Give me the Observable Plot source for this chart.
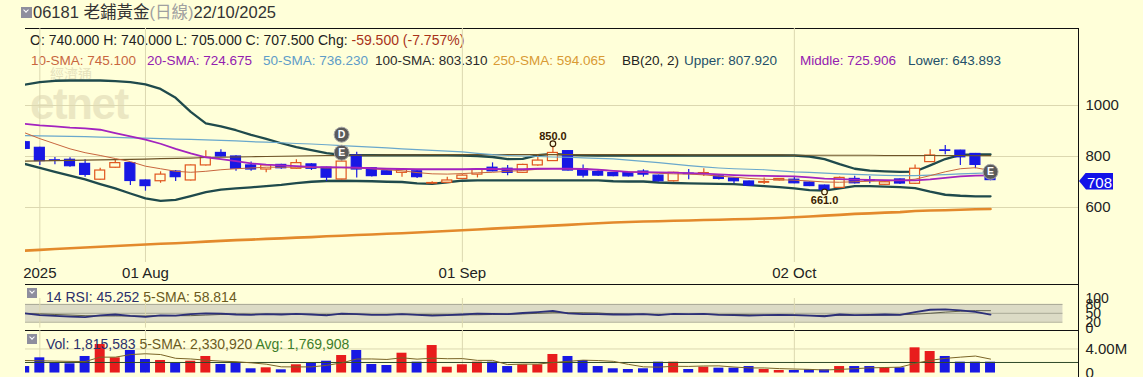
<!DOCTYPE html>
<html>
<head>
<meta charset="utf-8">
<script src="https://cdn.jsdelivr.net/npm/d3@7"></script>
<script src="https://cdn.jsdelivr.net/npm/@observablehq/plot@0.6"></script>
<style>
html,body{margin:0;padding:0;background:#FFFFD9;}
#wrap{position:relative;width:1143px;height:377px;overflow:hidden;background:#FFFFD9;font-family:"Liberation Sans",Arial,"Noto Sans CJK TC",sans-serif;color:#222;}
.a{position:absolute;white-space:pre;line-height:1;}
.hl{position:absolute;height:1px;background:#111;}
.vl{position:absolute;width:1px;background:#111;}
.chk{position:absolute;width:10px;height:10px;background:#8e8e9e;}
.chk:after{content:"";position:absolute;left:3px;top:1px;width:3px;height:3px;border-right:1.5px solid #fff;border-bottom:1.5px solid #fff;transform:rotate(45deg);}
.pnl{position:absolute;left:0;}
.pnl svg{display:block;overflow:visible;}
</style>
</head>
<body>
<div id="wrap"></div>
<script>
// ---------------- data ----------------
const code = "06181";
const name = "老鋪黃金";
const period = "(日線)";
const asOf = "22/10/2025";

const xTickIdx = [1, 8, 29, 51];
const xTickLabels = ["2025", "01 Aug", "01 Sep", "02 Oct"];
const priceTicks = [600, 800, 1000];
const rsiTicks = [0, 20, 50, 80, 100];
const rsiBand = [20, 80];
const volTicks = [0, 4e6];

const open = [856,834,785,787,771,709,756,774,706,703,
  741,706,765,814,800,765,749,767,752,769,
  756,710,804,754,742,736,742,694,697,712,
  729,756,752,736,765,782,821,749,739,735,
  735,741,725,703,733,731,722,714,702,697,
  706,709,698,686,677,712,707,689,710,693,
  778,824,823,810,740];
const high = [860,836,796,795,787,754,787,776,708,740,
  745,767,823,826,803,778,768,770,787,772,
  758,815,817,756,744,750,745,701,719,728,
  750,775,765,770,807,850,823,767,745,737,
  737,748,727,738,749,752,724,716,704,716,
  714,722,700,688,720,723,722,702,712,767,
  826,843,825,812,740];
const low = [826,765,768,758,719,707,754,686,664,695,
  702,704,763,798,742,742,736,750,750,745,
  702,708,716,720,726,719,714,690,695,710,
  716,740,725,733,762,780,743,716,722,721,
  720,719,700,700,709,722,708,693,684,690,
  704,693,682,661,675,692,693,687,690,690,
  776,807,765,752,705];
const close = [830,782,783,762,728,745,774,704,684,729,
  719,765,795,800,752,749,765,754,774,752,
  717,780,749,723,728,748,719,696,706,725,
  748,742,736,767,784,814,745,725,725,723,
  722,729,703,736,731,735,712,703,686,700,
  712,695,684,669,716,695,705,699,694,752,
  804,822,797,767,707.5];
const volumeM = [1.10,2.54,1.65,1.55,2.76,4.74,2.54,3.75,2.26,2.10,
  1.65,1.98,2.76,1.44,1.65,0.73,0.89,0.56,1.39,1.65,
  1.98,2.92,3.75,1.44,1.27,3.30,1.82,4.57,0.99,1.39,
  1.82,1.82,1.10,1.39,1.39,3.09,2.76,2.10,1.10,0.73,
  0.61,0.73,1.82,1.82,0.61,0.99,0.83,0.83,1.10,0.61,
  0.45,0.45,0.56,0.56,1.10,1.10,1.10,0.83,0.89,4.19,
  3.58,2.76,1.82,1.82,1.815583];
const volSmaM = [2.10,2.05,2.00,1.95,1.92,2.65,2.65,3.07,3.21,3.08,
  2.46,2.35,2.15,1.99,1.90,1.71,1.49,1.05,1.04,1.04,
  1.29,1.70,2.34,2.35,2.27,2.54,2.32,2.48,2.39,2.41,
  2.12,2.12,1.42,1.50,1.50,1.76,1.95,2.15,2.09,1.96,
  1.46,1.05,1.00,1.14,1.12,1.19,1.21,1.02,0.87,0.87,
  0.76,0.69,0.63,0.53,0.62,0.75,0.88,0.94,1.00,1.62,
  2.12,2.45,2.65,2.83,2.33];
const volAvg = 1769908;

const bbUpper = [1082,1092,1097,1098,1098,1098,1096,1092,1083,1065,
  1030,975,930,918,903,885,869,852,837,825,
  813,806,805,805,805,805,805,805,805,804,
  802,798,790,791,805,810,806,805,804,804,
  804,804,804,804,804,804,804,804,804,804,
  804,804,800,790,770,752,745,742,740,741,
  765,790,806,808,807.9];
const bbLower = [771,755,740,725,710,692,675,655,636,626,
  630,645,660,670,675,679,684,689,696,701,
  704,705,704,703,701,700,695,693,699,705,
  706,706,706,706,706,706,706,706,706,703,
  702,702,698,696,695,694,693,692,688,684,
  680,675,668,666,675,684,684,682,680,676,
  662,650,646,644,643.9];
const sma20 = [928,922,918,913,910,905,892,879,866,850,
  830,812,797,790,782,773,768,765,762,759,
  758,757,756,754,752,751,750,750,750,750,
  751,751,750,750,752,752,752,751,748,744,
  740,739,738,737,735,733,730,727,725,724,
  723,722,718,713,711,709,708,707,706,706,
  710,716,722,725,725.9];
const sma10 = [893,870,850,830,815,804,792,780,762,752,
  742,738,742,748,752,755,758,758,758,757,
  755,756,755,752,748,744,737,732,731,733,
  736,738,742,745,750,753,752,751,748,744,
  740,738,734,732,731,728,723,719,714,711,
  709,707,704,700,699,701,703,704,706,711,
  725,740,752,756,745.1];
const sma50 = [882,881,880,879,878,876,875,873,872,870,
  868,867,865,863,861,858,856,854,851,849,
  846,843,840,837,834,830,827,824,821,818,
  812,807,804,802,800,798,797,795,793,791,
  786,781,776,770,764,759,755,752,750,748,
  744,740,738,735,732,730,728,726,725,725,
  727,729,732,734,736.2];
const sma100 = [782,783,784,785,786,787,788,789,790,792,
  793,794,796,797,798,799,800,801,802,803,
  804,804,805,805,806,806,806,807,807,807,
  807,807,807,807,807,807,807,807,807,807,
  807,807,807,807,806,806,806,806,806,806,
  806,805,805,805,805,805,805,804,804,804,
  804,804,804,803,803.3];
const sma250 = [431,434,437,440,443,446,449,452,455,458,
  460,463,466,469,472,474,477,479,482,484,
  487,489,492,494,497,499,502,505,508,511,
  514,517,520,523,526,529,532,535,538,541,
  543,545,546,548,549,551,552,554,555,557,
  559,562,565,568,571,575,577,580,582,586,
  588,589,591,593,594.1];
const rsi = [50,44,41,39,37,43,46,41,38,43,
  42,47,50,49,46,45,47,46,48,46,
  43,49,47,45,45,47,45,42,44,46,
  49,48,47,51,54,58,50,47,47,46,
  46,47,44,48,47,48,45,44,42,44,
  45,44,42,40,46,44,45,46,45,54,
  62,63,60,55,45.252];
const rsiSma = [49,48,46,44,42,41,41,41,41,42,
  42,42,44,46,47,47,47,47,46,46,
  46,46,47,46,46,47,46,45,45,45,
  45,46,47,48,50,52,52,52,51,48,
  47,47,46,46,46,47,46,46,45,44,
  44,44,43,43,43,43,43,44,45,47,
  50,54,57,59,58.814];

const extIdx = [35, 53];
const extVal = [850, 661];
const extText = ["850.0", "661.0"];
const extDir = [-1, 1];
const evtIdx = [21, 21, 64];
const evtLabel = ["D", "E", "E"];
const evtLevel = [1, 0, 0];

const infoLine1 = [["O: 740.000 H: 740.000 L: 705.000 C: 707.500 Chg: ", "#222"], ["-59.500 (-7.757%)", "#a8321a"]];
const infoLine2 = [["10-SMA: 745.100", "#c8663e", 31], ["20-SMA: 724.675", "#9320b0", 147], ["50-SMA: 736.230", "#5e9cc8", 263],
  ["100-SMA: 803.310", "#2a2a2a", 375], ["250-SMA: 594.065", "#d99a34", 493], ["BB(20, 2)", "#222", 622],
  ["Upper: 807.920", "#23506a", 684], ["Middle: 725.906", "#9320b0", 800], ["Lower: 643.893", "#23506a", 908]];
const rsiInfo = [["14 RSI: 45.252 ", "#2b306b"], ["5-SMA: 58.814", "#6b5a1e"]];
const volInfo = [["Vol: 1,815,583 ", "#2b306b"], ["5-SMA: 2,330,920 ", "#6b5a1e"], ["Avg: 1,769,908", "#3d7d2a"]];

// ---------------- styles ----------------
const BG = "#FFFFD9";
const GRID = "#dcd8b0";
const UP = "#e0561e", DN = "#1818e4";
const FONT = '"Liberation Sans", Arial, sans-serif';
const xDomain = [0.05, 69.83];

const idx = d3.range(open.length);
const bars = idx.map(i => ({i, o: open[i], h: high[i], l: low[i], c: close[i], v: volumeM[i] * 1e6, up: close[i] >= open[i]}));

const wrap = document.getElementById("wrap");
function add(html) { wrap.insertAdjacentHTML("beforeend", html); }
function spans(parts) { return parts.map(([t, c]) => `<span style="color:${c}">${t}</span>`).join(""); }

// header
add(`<div class="chk" style="left:21px;top:7px;width:11px;height:11px"></div>`);
add(`<div class="a" style="left:33px;top:4px;font-size:16.5px;color:#333;font-family:'Liberation Sans','Noto Sans CJK TC',sans-serif">${code} ${name}<span style="color:#a0a0a0">${period}</span>${asOf}</div>`);
add(`<div class="hl" style="left:25px;top:28px;width:1053px"></div>`);
add(`<div class="a" style="left:30px;top:33px;font-size:14px">${spans(infoLine1)}</div>`);
infoLine2.forEach(([t, c, x]) => add(`<div class="a" style="left:${x}px;top:53.5px;font-size:13.5px;color:${c}">${t}</div>`));
// watermark
add(`<div class="a" style="left:50px;top:66px;font-size:14px;color:#e6e2bd;font-family:'Noto Sans CJK TC',sans-serif">經濟通</div>`);
add(`<div class="a" style="left:30px;top:82px;font-size:44px;font-weight:bold;color:#ebe7c2;letter-spacing:-1.5px">etnet</div>`);

function line(arr, stroke, w) {
  return Plot.line(idx, {x: d => d, y: d => arr[d], stroke, strokeWidth: w, clip: true, curve: "linear"});
}

const extMarks = extIdx.flatMap((d, k) => [
  Plot.dot([d], {x: v => v, y: () => extVal[k], r: 2.8, stroke: "#3a1c00", fill: BG, strokeWidth: 1.2}),
  Plot.text([d], {x: v => v, y: () => extVal[k], text: () => extText[k], dy: extDir[k] < 0 ? -7 : 9, fontSize: 11, fontWeight: "bold", fill: "#3a1c00"})
]);
const evtMarks = evtIdx.flatMap((d, k) => [
  Plot.dot([d], {x: v => v, y: v => high[v], dy: -evtLevel[k] * 18, r: 7.5, fill: "#5a5a5a", stroke: "#a8a8a8", strokeWidth: 1}),
  Plot.text([d], {x: v => v, y: v => high[v], dy: -evtLevel[k] * 18, text: () => evtLabel[k], fontSize: 10.5, fontWeight: "bold", fill: "#fff"})
]);

// main chart
const main = Plot.plot({
  width: 1143, height: 256, marginLeft: 25, marginRight: 65, marginTop: 0, marginBottom: 22,
  style: {background: "transparent", fontFamily: FONT, fontSize: "15px", color: "#222", overflow: "visible"},
  x: {domain: xDomain, ticks: xTickIdx, tickFormat: d => xTickLabels[xTickIdx.indexOf(d)], tickSize: 0, tickPadding: 5, label: null},
  y: {domain: [384.3, 1302], ticks: priceTicks, tickFormat: d => String(d), tickSize: 0, tickPadding: 7, label: null, axis: "right"},
  color: {type: "identity"},
  marks: [
    Plot.ruleY(priceTicks, {stroke: GRID}),
    Plot.ruleX(xTickIdx, {stroke: GRID}),
    line(sma250, "#e38a2c", 2.6),
    line(bbUpper, "#1f4a4c", 2.3),
    line(bbLower, "#1f4a4c", 2.3),
    Plot.ruleX(bars, {x: "i", y1: "l", y2: "h", stroke: d => d.up ? UP : DN, strokeWidth: 1.2, clip: true}),
    Plot.rect(bars, {x1: d => d.i - 0.33, x2: d => d.i + 0.33, y1: d => Math.min(d.o, d.c), y2: d => Math.max(d.o, d.c),
      fill: d => d.up ? BG : DN, stroke: d => d.up ? UP : DN, strokeWidth: 1.2, clip: true}),
    line(sma100, "#6e5428", 1.2),
    line(sma50, "#6aa8cc", 1.2),
    line(sma10, "#c8663e", 1),
    line(sma20, "#a323bf", 1.8),
    ...extMarks,
    ...evtMarks
  ]
});
const mainDiv = document.createElement("div");
mainDiv.className = "pnl"; mainDiv.style.top = "28px";
mainDiv.appendChild(main); wrap.appendChild(mainDiv);

// price tag
{
  const yy = 28 + main.scale("y").apply(close[close.length - 1]);
  add(`<div class="a" style="left:1079px;top:${yy - 7}px;width:34px;height:17px;background:#1212e8;clip-path:polygon(0 50%,7px 0,100% 0,100% 100%,7px 100%);"></div>`);
  add(`<div class="a" style="left:1087px;top:${yy - 5}px;font-size:15px;color:#fff">${Math.round(close[close.length - 1])}</div>`);
}

// RSI panel
add(`<div class="hl" style="left:25px;top:284px;width:1053px"></div>`);
const rsiPlot = Plot.plot({
  width: 1143, height: 46, marginLeft: 25, marginRight: 65, marginTop: 14, marginBottom: 2.4,
  style: {background: "transparent", fontFamily: FONT, fontSize: "14px", color: "#222", overflow: "visible"},
  x: {domain: xDomain, axis: null},
  y: {domain: [0, 100], ticks: rsiTicks, tickSize: 0, tickPadding: 7, label: null, axis: "right"},
  marks: [
    Plot.rect([rsiBand], {x1: () => xDomain[0], x2: () => 68.8, y1: d => d[0], y2: d => d[1], fill: "#dcdbc6"}),
    Plot.ruleY([rsiBand[0], 50, rsiBand[1]], {x1: () => xDomain[0], x2: () => 68.8, stroke: "#a9a996", strokeWidth: 1}),
    Plot.ruleX(xTickIdx, {stroke: GRID}),
    line(rsiSma, "#5f5f4a", 1),
    line(rsi, "#2c2f78", 1.8)
  ]
});
const rsiDiv = document.createElement("div");
rsiDiv.className = "pnl"; rsiDiv.style.top = "284px";
rsiDiv.appendChild(rsiPlot); wrap.appendChild(rsiDiv);
add(`<div class="chk" style="left:27px;top:288px"></div>`);
add(`<div class="a" style="left:46px;top:290px;font-size:14px">${spans(rsiInfo)}</div>`);

// Volume panel
add(`<div class="hl" style="left:25px;top:330px;width:1053px"></div>`);
const volPlot = Plot.plot({
  width: 1143, height: 47, marginLeft: 25, marginRight: 65, marginTop: 0, marginBottom: 4.3,
  style: {background: "transparent", fontFamily: FONT, fontSize: "15px", color: "#222", overflow: "visible"},
  x: {domain: xDomain, axis: null},
  y: {domain: [0, 7.05e6], ticks: volTicks, tickFormat: v => v === 0 ? "0" : (v / 1e6).toFixed(2) + "M", tickSize: 0, tickPadding: 7, label: null, axis: "right"},
  color: {type: "identity"},
  marks: [
    Plot.ruleY([volTicks[1]], {stroke: GRID}),
    Plot.ruleX(xTickIdx, {stroke: GRID}),
    Plot.rect(bars, {x1: d => d.i - 0.33, x2: d => d.i + 0.33, y1: () => 0, y2: "v", fill: d => d.up ? "#e81c1c" : "#1818e4", clip: true}),
    Plot.ruleY([volAvg], {stroke: "#2f4a2a", strokeWidth: 1}),
    Plot.line(idx, {x: d => d, y: d => volSmaM[d] * 1e6, stroke: "#7a6426", strokeWidth: 1, clip: true})
  ]
});
const volDiv = document.createElement("div");
volDiv.className = "pnl"; volDiv.style.top = "330px";
volDiv.appendChild(volPlot); wrap.appendChild(volDiv);
add(`<div class="chk" style="left:27px;top:334px"></div>`);
add(`<div class="a" style="left:46px;top:337px;font-size:14px">${spans(volInfo)}</div>`);

// right axis line
add(`<div class="vl" style="left:1078px;top:28px;height:349px"></div>`);
</script>
</body>
</html>
